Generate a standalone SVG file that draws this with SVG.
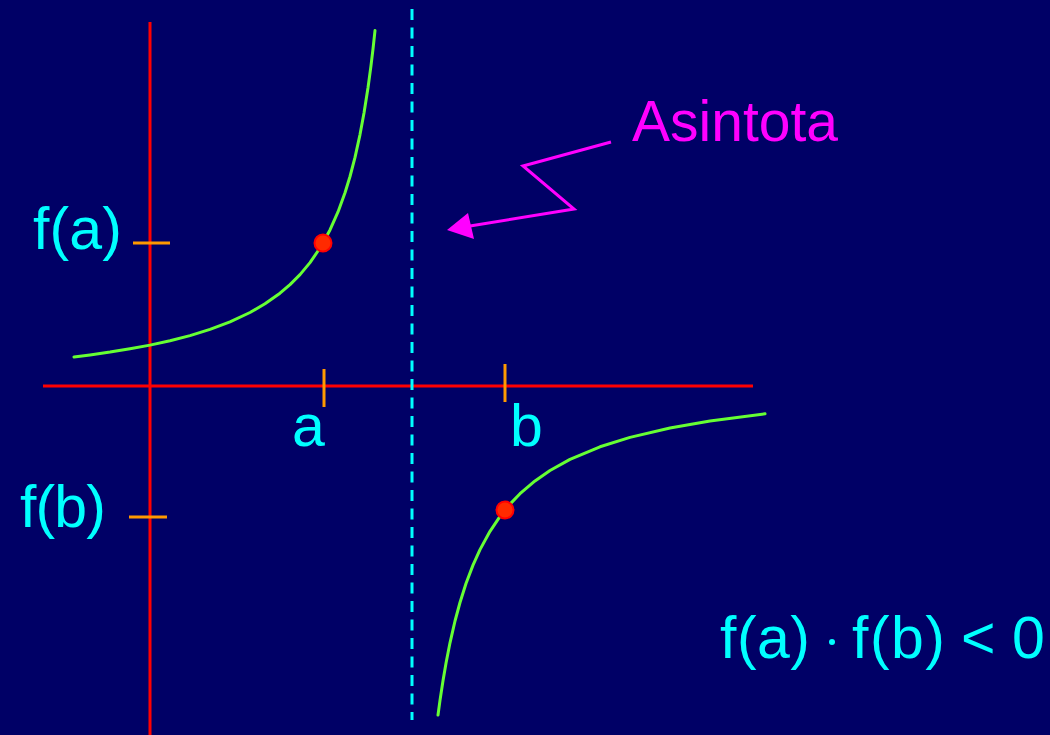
<svg xmlns="http://www.w3.org/2000/svg" width="1050" height="735" viewBox="0 0 1050 735">
<defs>
<style>
.axis{stroke:#ff0000;stroke-width:3;fill:none}
.tick{stroke:#ff9900;stroke-width:3;fill:none}
.curve{stroke:#66ff33;stroke-width:3;fill:none;stroke-linejoin:round;stroke-linecap:round}
.asym{stroke:#00ffff;stroke-width:3;fill:none;stroke-dasharray:11 7.5}
.dot{fill:#ff2a00;stroke:#ff0000;stroke-width:2}
.lbl{font-family:"Liberation Sans",Arial,sans-serif;font-size:59px;fill:#00ffff}
.call{font-family:"Liberation Sans",Arial,sans-serif;font-size:57px;fill:#ff00ff}
</style>
</defs>
<rect width="1050" height="735" fill="#000066"/>
<g id="axes">
<line class="axis" x1="150" y1="22" x2="150" y2="735"/>
<line class="axis" x1="43" y1="386" x2="753" y2="386"/>
</g>
<g id="asymptote">
<line class="asym" x1="412" y1="9" x2="412" y2="720"/>
</g>
<g id="ticks">
<line class="tick" x1="133" y1="243" x2="170" y2="243"/>
<line class="tick" x1="129" y1="517" x2="167" y2="517"/>
<line class="tick" x1="324" y1="369" x2="324" y2="407"/>
<line class="tick" x1="505" y1="364" x2="505" y2="402"/>
</g>
<g id="curves">
<polyline class="curve" points="74,357 90,354.9 110,352.1 130,348.8 150,345.1 170,340.7 190,335.6 210,329.4 230,321.9 250,312.5 265,303.8 280,293.2 290,284.6 300,274.6 310,262.6 320,248 330,229.9 338,211.9 345,192.8 350,176.5 355,157.4 360,134.6 364,113.1 368,87.8 371,65.6 373,49 375,30.6"/>
<polyline class="curve" points="438,715 440,700.4 443,680.7 446,663.3 450,642.8 455,621 460,602.5 466,583.5 473,565.1 480,549.6 490,531.3 500,516.4 510,504.1 520,493.7 535,480.9 550,470.5 570,459.4 600,446.8 630,437.4 670,428 710,420.9 765,413.8"/>
</g>
<g id="points">
<circle class="dot" cx="323" cy="243" r="8.5"/>
<circle class="dot" cx="505" cy="510" r="8.5"/>
</g>
<g id="labels">
<text class="lbl" x="33" y="249" textLength="89" lengthAdjust="spacing">f(a)</text>
<text class="lbl" x="20" y="527" textLength="86" lengthAdjust="spacing">f(b)</text>
<text class="lbl" x="292" y="446">a</text>
<text class="lbl" x="510" y="446">b</text>
<text class="lbl" x="720" y="658" textLength="90" lengthAdjust="spacing">f(a)</text>
<circle cx="832" cy="642" r="3" fill="#00ffff"/>
<text class="lbl" x="852" y="658" textLength="93" lengthAdjust="spacing">f(b)</text>
<text class="lbl" x="961" y="658">&lt;</text>
<text class="lbl" x="1012" y="658">0</text>
</g>
<g id="callout">
<text class="call" x="632" y="141">Asintota</text>
</g>
<g id="connectors">
<polyline points="611,142 523,166 574,209 470,226" fill="none" stroke="#ff00ff" stroke-width="3" style="stroke-linejoin:miter"/>
<polygon points="447,230 468,213 474,239" fill="#ff00ff"/>
</g>
</svg>
